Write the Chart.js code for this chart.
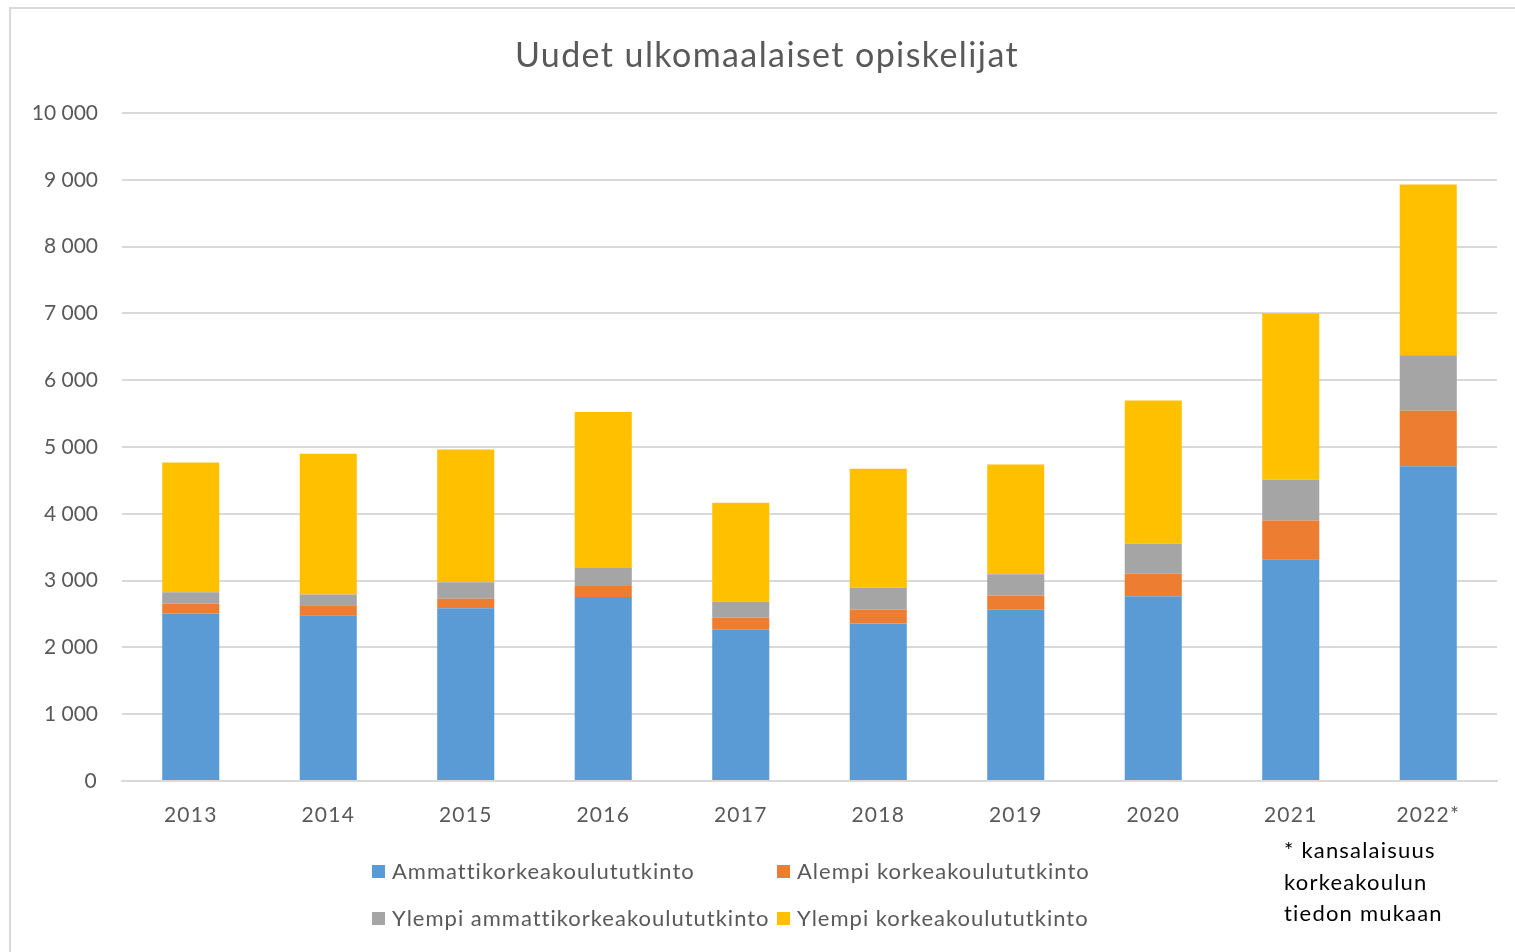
<!DOCTYPE html>
<html>
<head>
<meta charset="utf-8">
<script src="https://cdn.jsdelivr.net/npm/chart.js@4/dist/chart.umd.min.js"></script>
<style>
  html, body { margin: 0; padding: 0; background: #fff; overflow: hidden; }
  #wrap { position: absolute; left: 0; top: 0; width: 1515px; height: 952px; }
</style>
</head>
<body>
<div id="wrap"><canvas id="c" width="1515" height="952"></canvas></div>
<script>
const categories = ['2013', '2014', '2015', '2016', '2017', '2018', '2019', '2020', '2021', '2022*'];
const seriesNames = ['Ammattikorkeakoulututkinto', 'Alempi korkeakoulututkinto', 'Ylempi ammattikorkeakoulututkinto', 'Ylempi korkeakoulututkinto'];
const ammattikorkeakoulu = [2507, 2482, 2587, 2755, 2263, 2358, 2563, 2766, 3320, 4713];
const alempiKorkeakoulu = [146, 150, 141, 165, 185, 209, 214, 336, 580, 829];
const ylempiAmmattikorkeakoulu = [173, 160, 248, 270, 235, 325, 319, 449, 609, 832];
const ylempiKorkeakoulu = [1943, 2106, 1987, 2335, 1482, 1782, 1642, 2145, 2494, 2556];
const seriesColors = ['#5B9BD5', '#ED7D31', '#A5A5A5', '#FFC000'];
const titleText = 'Uudet ulkomaalaiset opiskelijat';
const footnoteLines = ['* kansalaisuus', 'korkeakoulun', 'tiedon mukaan'];

const FONT = 'Lato, "Open Sans", sans-serif';
const TXT = '#595959';
const SPACING = '1.2px';

function fmt(v) {
  return String(v).replace(/\B(?=(\d{3})+(?!\d))/g, '\u202F');
}

const spacingPlugin = {
  id: 'spacing',
  beforeUpdate(chart) { chart.ctx.letterSpacing = SPACING; },
  beforeLayout(chart) { chart.ctx.letterSpacing = SPACING; },
  beforeDraw(chart) { chart.ctx.letterSpacing = SPACING; }
};

const decorPlugin = {
  id: 'decor',
  afterDraw(chart) {
    const ctx = chart.ctx;
    ctx.save();
    // outer frame
    ctx.strokeStyle = '#d9d9d9';
    ctx.lineWidth = 2;
    ctx.strokeRect(10, 8, 1530, 970);
    // title
    ctx.letterSpacing = '1.4px';
    ctx.fillStyle = TXT;
    ctx.font = '34px ' + FONT;
    ctx.textAlign = 'center';
    ctx.textBaseline = 'middle';
    ctx.fillText(titleText, 767, 56);
    // legend
    ctx.letterSpacing = '1px';
    const items = [
      { i: 0, x: 372, y: 871 },
      { i: 1, x: 777, y: 871 },
      { i: 2, x: 372, y: 918 },
      { i: 3, x: 777, y: 918 }
    ];
    ctx.font = '22px ' + FONT;
    ctx.textAlign = 'left';
    items.forEach(it => {
      const ds = chart.data.datasets[it.i];
      ctx.fillStyle = ds.backgroundColor;
      ctx.fillRect(it.x, it.y - 6, 13, 13);
      ctx.fillStyle = TXT;
      ctx.fillText(ds.label, it.x + 20, it.y + 1);
    });
    // footnote
    ctx.letterSpacing = SPACING;
    ctx.fillStyle = '#000';
    ctx.font = '22px ' + FONT;
    footnoteLines.forEach((t, k) => {
      ctx.fillText(t, 1284, 851 + k * 31.5);
    });
    ctx.restore();
  }
};

const datasetsData = [ammattikorkeakoulu, alempiKorkeakoulu, ylempiAmmattikorkeakoulu, ylempiKorkeakoulu];

new Chart(document.getElementById('c'), {
  type: 'bar',
  data: {
    labels: categories,
    datasets: datasetsData.map((d, i) => ({
      label: seriesNames[i],
      data: d,
      backgroundColor: seriesColors[i],
      borderWidth: 0,
      barPercentage: 1,
      categoryPercentage: 0.415
    }))
  },
  options: {
    responsive: false,
    animation: false,
    devicePixelRatio: 1,
    layout: { padding: { left: 0, right: 18, top: 113, bottom: 0 } },
    plugins: {
      legend: { display: false },
      tooltip: { enabled: false },
      title: { display: false }
    },
    scales: {
      x: {
        stacked: true,
        grid: { display: false, drawTicks: false },
        border: { display: true, color: '#d9d9d9', width: 2 },
        ticks: { color: TXT, font: { family: FONT, size: 21 }, padding: 22, maxRotation: 0 },
        afterFit(scale) { scale.height = 171; }
      },
      y: {
        stacked: true,
        min: 0,
        max: 10000,
        grid: { color: '#d9d9d9', lineWidth: 2, drawTicks: false },
        border: { display: false },
        ticks: {
          stepSize: 1000,
          color: TXT,
          font: { family: FONT, size: 21 },
          padding: 24,
          callback: v => fmt(v)
        },
        afterFit(scale) { scale.width = 122; }
      }
    }
  },
  plugins: [spacingPlugin, decorPlugin]
});
</script>
</body>
</html>
